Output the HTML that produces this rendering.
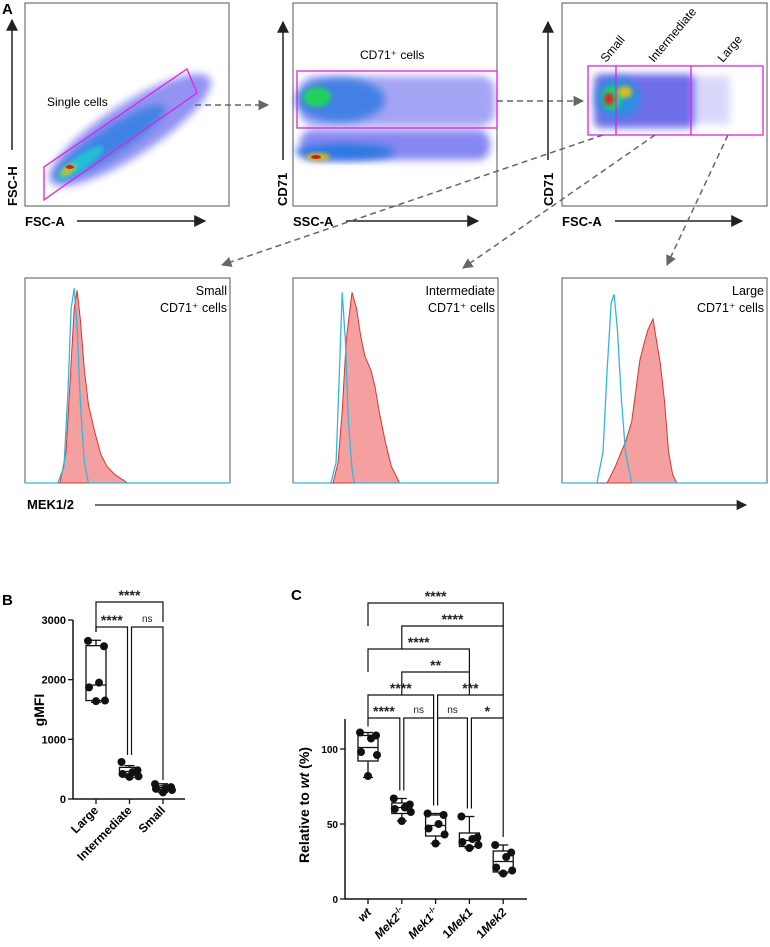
<!DOCTYPE html>
<html><head><meta charset="utf-8"><style>
html,body{margin:0;padding:0;background:#fff;}
svg{display:block;font-family:"Liberation Sans",sans-serif;}
</style></head><body>
<svg id="fig" width="770" height="947" viewBox="0 0 770 947">
<defs>
<marker id="ah" viewBox="0 0 10 10" refX="9" refY="5" markerWidth="8" markerHeight="8" orient="auto-start-reverse"><path d="M0,0L10,5L0,10z" fill="#222"/></marker>
<marker id="ag" viewBox="0 0 10 10" refX="9" refY="5" markerWidth="7" markerHeight="7" orient="auto"><path d="M0,0L10,5L0,10z" fill="#666"/></marker>
<filter id="bl" x="-30%" y="-30%" width="160%" height="160%"><feGaussianBlur stdDeviation="4"/></filter>
<filter id="bl2" x="-30%" y="-30%" width="160%" height="160%"><feGaussianBlur stdDeviation="2"/></filter>
</defs>
<g>
<text x="2" y="14" font-size="15" font-weight="bold">A</text>
<rect x="25" y="3" width="204" height="203" fill="none" stroke="#555"/>
<g>
<ellipse cx="130" cy="130" rx="95" ry="26" transform="rotate(-33 130 130)" fill="#3a3ae8" opacity="0.55" filter="url(#bl)"/>
<ellipse cx="110" cy="142" rx="65" ry="14" transform="rotate(-33 110 142)" fill="#2c7fe0" opacity="0.8" filter="url(#bl)"/>
<ellipse cx="80" cy="163" rx="28" ry="7" transform="rotate(-35 80 163)" fill="#22c0d8" filter="url(#bl2)"/>
<ellipse cx="68" cy="170" rx="9" ry="4" transform="rotate(-35 68 170)" fill="#c8c020" filter="url(#bl2)"/>
<ellipse cx="70" cy="167" rx="4" ry="2" fill="#d02020"/>
</g>
<polygon points="44,200 44,167 187,69 197,93 58,190" fill="none" stroke="#e020e0" stroke-width="1.3"/>
<text x="47" y="106" font-size="12">Single cells</text>
<line x1="12" y1="150" x2="12" y2="20" stroke="#222" stroke-width="1.5" marker-end="url(#ah)"/>
<text transform="translate(17,206) rotate(-90)" font-size="13" font-weight="bold">FSC-H</text>
<text x="25" y="226" font-size="13" font-weight="bold">FSC-A</text>
<line x1="77" y1="221" x2="205" y2="221" stroke="#222" stroke-width="1.5" marker-end="url(#ah)"/>
<line x1="195" y1="105" x2="268" y2="105" stroke="#666" stroke-width="1.5" stroke-dasharray="6,4" marker-end="url(#ag)"/>
<rect x="293" y="3" width="204" height="203" fill="none" stroke="#555"/>
<g>
<rect x="300" y="76" width="195" height="50" rx="14" fill="#3838e8" opacity="0.45" filter="url(#bl)"/>
<rect x="300" y="130" width="190" height="30" rx="12" fill="#3838e8" opacity="0.6" filter="url(#bl)"/>
<ellipse cx="340" cy="100" rx="45" ry="22" fill="#2a78e0" opacity="0.8" filter="url(#bl)"/>
<ellipse cx="345" cy="152" rx="50" ry="8" fill="#2a78e0" filter="url(#bl)"/>
<ellipse cx="317" cy="97" rx="14" ry="10" fill="#20d060" filter="url(#bl2)"/>
<ellipse cx="318" cy="157" rx="12" ry="4" fill="#d0c020" filter="url(#bl2)"/>
<ellipse cx="316" cy="157" rx="5" ry="2" fill="#d02020"/>
</g>
<rect x="297" y="71" width="200" height="57" fill="none" stroke="#e020e0" stroke-width="1.3"/>
<text x="360" y="59" font-size="12">CD71⁺ cells</text>
<line x1="283" y1="160" x2="283" y2="22" stroke="#222" stroke-width="1.5" marker-end="url(#ah)"/>
<text transform="translate(287,206) rotate(-90)" font-size="13" font-weight="bold">CD71</text>
<text x="293" y="226" font-size="13" font-weight="bold">SSC-A</text>
<line x1="346" y1="221" x2="478" y2="221" stroke="#222" stroke-width="1.5" marker-end="url(#ah)"/>
<line x1="497" y1="101" x2="583" y2="101" stroke="#666" stroke-width="1.5" stroke-dasharray="6,4" marker-end="url(#ag)"/>
<rect x="562" y="3" width="205" height="203" fill="none" stroke="#555"/>
<g>
<rect x="594" y="74" width="100" height="54" rx="6" fill="#3030e0" opacity="0.7" filter="url(#bl)"/>
<rect x="690" y="76" width="40" height="48" fill="#4040e8" opacity="0.2" filter="url(#bl)"/>
<ellipse cx="618" cy="98" rx="22" ry="20" fill="#2a90e0" filter="url(#bl)"/>
<ellipse cx="612" cy="98" rx="10" ry="12" fill="#20d070" filter="url(#bl2)"/>
<ellipse cx="625" cy="92" rx="7" ry="6" fill="#d0c020" filter="url(#bl2)"/>
<ellipse cx="609" cy="99" rx="5" ry="6" fill="#e02020" filter="url(#bl2)"/>
</g>
<rect x="588" y="66" width="175" height="69" fill="none" stroke="#e020e0" stroke-width="1.3"/>
<line x1="616" y1="66" x2="616" y2="135" stroke="#e020e0" stroke-width="1.3"/>
<line x1="691" y1="66" x2="691" y2="135" stroke="#e020e0" stroke-width="1.3"/>
<text transform="translate(606,63) rotate(-50)" font-size="12">Small</text>
<text transform="translate(654,63) rotate(-50)" font-size="12">Intermediate</text>
<text transform="translate(723,63) rotate(-50)" font-size="12">Large</text>
<line x1="548" y1="160" x2="548" y2="22" stroke="#222" stroke-width="1.5" marker-end="url(#ah)"/>
<text transform="translate(553,206) rotate(-90)" font-size="13" font-weight="bold">CD71</text>
<text x="562" y="226" font-size="13" font-weight="bold">FSC-A</text>
<line x1="615" y1="221" x2="742" y2="221" stroke="#222" stroke-width="1.5" marker-end="url(#ah)"/>
<line x1="603" y1="135" x2="222" y2="265" stroke="#666" stroke-width="1.5" stroke-dasharray="6,4" marker-end="url(#ag)"/>
<line x1="655" y1="135" x2="463" y2="268" stroke="#666" stroke-width="1.5" stroke-dasharray="6,4" marker-end="url(#ag)"/>
<line x1="728" y1="135" x2="667" y2="265" stroke="#666" stroke-width="1.5" stroke-dasharray="6,4" marker-end="url(#ag)"/>
<g id="hists"></g>
<text x="27" y="509" font-size="13" font-weight="bold">MEK1/2</text>
<line x1="95" y1="505" x2="746" y2="505" stroke="#222" stroke-width="1.3" marker-end="url(#ah)"/>
</g>
<g id="panelB"></g>
<g id="panelC"></g>
</svg>
<script>
const histTitles = [["Small","CD71⁺ cells"],["Intermediate","CD71⁺ cells"],["Large","CD71⁺ cells"]];
const histControl = [
 [[16,0],[19,0.08],[21,0.45],[22.5,0.85],[24,0.95],[25.5,0.75],[27,0.4],[29,0.1],[31,0]],
 [[18.5,0],[21,0.1],[22.5,0.5],[24,0.93],[25.5,0.7],[27,0.3],[29,0.05],[30,0]],
 [[17,0],[20,0.15],[22,0.55],[24,0.88],[25.4,0.92],[27,0.75],[29,0.4],[31,0.15],[34,0]]
];
const histMEK = [
 [[17,0],[20,0.15],[22,0.5],[24,0.85],[25.4,0.94],[27,0.8],[29,0.55],[31,0.38],[34,0.25],[37,0.14],[40,0.08],[44,0.04],[50,0]],
 [[19.5,0],[22,0.1],[24,0.35],[26,0.7],[28.8,0.93],[31,0.85],[33,0.72],[35,0.62],[38,0.55],[40,0.47],[42,0.35],[45,0.2],[48,0.08],[52,0]],
 [[22,0],[26,0.08],[28,0.13],[31,0.2],[34,0.3],[36,0.45],[38,0.6],[40,0.68],[42,0.75],[44.4,0.8],[46,0.7],[48,0.58],[50,0.4],[52,0.15],[54,0.04],[56,0]]
];
const histBoxX = [25, 293, 562];
const NS = "http://www.w3.org/2000/svg";
function mk(tag, attrs, parent){const e=document.createElementNS(NS,tag);for(const k in attrs)e.setAttribute(k,attrs[k]);parent.appendChild(e);return e;}
const hg = document.getElementById('hists');
histBoxX.forEach((bx,i)=>{
  const top=278,h=205,w=205,base=top+h;
  const sx=v=>bx+v/100*w, sy=v=>base-v*h;
  const fr=mk('rect',{x:bx,y:top,width:w,height:h,fill:'none',stroke:'#555'},hg);
  
  
  let d='M'+sx(histMEK[i][0][0])+','+base;
  histMEK[i].forEach(p=>d+=' L'+sx(p[0]).toFixed(1)+','+sy(p[1]).toFixed(1));
  d+=' Z';
  const rp=mk('path',{d:d,fill:'#f5a0a0',stroke:'#e03030','stroke-width':1},hg);
  
  
  let d2='M'+bx+','+base+' L'+sx(histControl[i][0][0])+','+base;
  histControl[i].forEach(p=>d2+=' L'+sx(p[0]).toFixed(1)+','+sy(p[1]).toFixed(1));
  d2+=' L'+(bx+w)+','+base;
  const bp=mk('path',{d:d2,fill:'none',stroke:'#30b8e0','stroke-width':1.3},hg);
  
  
  histTitles[i].forEach((t,j)=>{
    const tx=mk('text',{x:bx+w-3,y:top+17+j*17,'font-size':12.5,'text-anchor':'end'},hg);
    tx.textContent=t;
    
    
  });
});

const bCategories = ["Large","Intermediate","Small"];
const bPoints = [[2650,2560,1950,1870,1650,1640],[620,480,450,420,380,370],[250,200,180,170,150,110]];
const bBox = [[1620,1650,1910,2570,2660],[360,420,460,530,560],[110,160,190,220,255]];
const bTicks = [0,1000,2000,3000];
const cCategories = ["wt","Mek2-/-","Mek1-/-","1Mek1","1Mek2"];
const cPoints = [[111,109,107,98,96,82],[67,63,61,60,58,52],[57,56,50,47,43,37],[55,41,40,38,36,34],[36,31,28,21,19,17]];
const cBox = [[81,92,101,109,111],[52,57,61,64,67],[37,42,49,56,57],[34,35,39,44,55],[17,18,25,32,36]];
const cTicks = [0,50,100];

function drawBox(g,x,b,ys,hw){
  const r=mk('rect',{x:x-hw,y:ys(b[3]),width:2*hw,height:ys(b[1])-ys(b[3]),fill:'none',stroke:'#111','stroke-width':1.3},g);
  
  
  mk('line',{x1:x-hw,x2:x+hw,y1:ys(b[2]),y2:ys(b[2]),stroke:'#111','stroke-width':1.3},g);
  mk('line',{x1:x,x2:x,y1:ys(b[0]),y2:ys(b[1]),stroke:'#111','stroke-width':1.3},g);
  mk('line',{x1:x,x2:x,y1:ys(b[3]),y2:ys(b[4]),stroke:'#111','stroke-width':1.3},g);
  mk('line',{x1:x-5,x2:x+5,y1:ys(b[0]),y2:ys(b[0]),stroke:'#111','stroke-width':1.3},g);
  mk('line',{x1:x-5,x2:x+5,y1:ys(b[4]),y2:ys(b[4]),stroke:'#111','stroke-width':1.3},g);
}
function drawPts(g,x,pts,ys,hw){
  pts.forEach((v,k)=>{
    const off=[-0.8,0.8,0.3,-0.7,0.9,0][k]*hw;
    const c=mk('circle',{cx:x+off,cy:ys(v),r:4,fill:'#111'},g);
    
    
  });
}
function bracket(g,x1,x2,y,l1,l2,label,big){
  mk('path',{d:`M${x1},${l1} L${x1},${y} L${x2},${y} L${x2},${l2}`,fill:'none',stroke:'#111','stroke-width':1.2},g);
  const t=mk('text',{x:(x1+x2)/2,y:big?y-2:y-5,'font-size':big?14:10,'font-weight':big?'bold':'normal','text-anchor':'middle',fill:'#222'},g);
  t.textContent=label;
  
  
}

(function(){
  const g=document.getElementById('panelB');
  const y0=799,y1=620,ys=v=>y0-(v/3000)*(y0-y1);
  const xs=i=>96+i*33.5;
  const L=mk('text',{x:2,y:605,'font-size':15,'font-weight':'bold'},g);L.textContent='B';
  
  mk('line',{x1:73,x2:73,y1:y1,y2:y0,stroke:'#111','stroke-width':1.5},g);
  mk('line',{x1:73,x2:185,y1:y0,y2:y0,stroke:'#111','stroke-width':1.5},g);
  bTicks.forEach(t=>{
    mk('line',{x1:68,x2:73,y1:ys(t),y2:ys(t),stroke:'#111','stroke-width':1.3},g);
    const tx=mk('text',{x:66,y:ys(t)+4,'font-size':11,'font-weight':'bold','text-anchor':'end'},g);tx.textContent=t;
    
  });
  const yl=mk('text',{transform:'translate(44,710) rotate(-90)','font-size':14,'font-weight':'bold','text-anchor':'middle'},g);yl.textContent='gMFI';
  
  bCategories.forEach((c,i)=>{
    mk('line',{x1:xs(i),x2:xs(i),y1:y0,y2:y0+5,stroke:'#111','stroke-width':1.3},g);
    const tx=mk('text',{transform:`translate(${xs(i)+3},${y0+12}) rotate(-45)`,'font-size':12,'font-weight':'bold','text-anchor':'end'},g);tx.textContent=c;
    
    drawBox(g,xs(i),bBox[i],ys,10);
    drawPts(g,xs(i),bPoints[i],ys,10);
  });
  bracket(g,xs(0),xs(2),602,632,622,'****',true);
  bracket(g,xs(0),xs(1)-2,627,632,755,'****',true);
  bracket(g,xs(1)+2,xs(2),627,755,780,'ns',false);
})();

(function(){
  const g=document.getElementById('panelC');
  const y0=899,ys=v=>y0-v*1.5;
  const xs=i=>368+i*33.8;
  const L=mk('text',{x:291,y:600,'font-size':15,'font-weight':'bold'},g);L.textContent='C';
  
  mk('line',{x1:345,x2:345,y1:ys(120),y2:y0,stroke:'#111','stroke-width':1.5},g);
  mk('line',{x1:345,x2:527,y1:y0,y2:y0,stroke:'#111','stroke-width':1.5},g);
  cTicks.forEach(t=>{
    mk('line',{x1:340,x2:345,y1:ys(t),y2:ys(t),stroke:'#111','stroke-width':1.3},g);
    const tx=mk('text',{x:338,y:ys(t)+4,'font-size':10,'font-weight':'bold','text-anchor':'end'},g);tx.textContent=t;
    
  });
  const yl=mk('text',{transform:'translate(309,805) rotate(-90)','font-size':14,'font-weight':'bold','text-anchor':'middle'},g);
  yl.innerHTML='Relative to <tspan font-style="italic">wt</tspan> (%)';
  
  const labs=['<tspan font-style="italic">wt</tspan>','<tspan font-style="italic">Mek2</tspan><tspan font-size="8" dy="-5">-/-</tspan>','<tspan font-style="italic">Mek1</tspan><tspan font-size="8" dy="-5">-/-</tspan>','1<tspan font-style="italic">Mek1</tspan>','1<tspan font-style="italic">Mek2</tspan>'];
  cCategories.forEach((c,i)=>{
    mk('line',{x1:xs(i),x2:xs(i),y1:y0,y2:y0+5,stroke:'#111','stroke-width':1.3},g);
    const tx=mk('text',{transform:`translate(${xs(i)+4},${y0+14}) rotate(-45)`,'font-size':12,'font-weight':'bold','text-anchor':'end'},g);tx.innerHTML=labs[i];
    
    drawBox(g,xs(i),cBox[i],ys,10);
    drawPts(g,xs(i),cPoints[i],ys,10);
  });
  const top=i=>ys(cBox[i][4])-8;
  bracket(g,xs(0),xs(4),603,626,626,'****',true);
  bracket(g,xs(1),xs(4),626,649,695,'****',true);
  bracket(g,xs(0),xs(3),649,672,672,'****',true);
  bracket(g,xs(1),xs(3),672,695,695,'**',true);
  bracket(g,xs(0),xs(2)-2,695,718,718,'****',true);
  bracket(g,xs(2)+2,xs(4),695,718,718,'***',true);
  bracket(g,xs(0),xs(1)-2,718,ys(111)-6,top(1),'****',true);
  bracket(g,xs(1)+2,xs(2)-2,718,top(1),top(2),'ns',false);
  bracket(g,xs(2)+2,xs(3)-2,718,top(2),top(3),'ns',false);
  bracket(g,xs(3)+2,xs(4),718,top(3),top(4),'*',true);
})();
</script>
</body></html>
